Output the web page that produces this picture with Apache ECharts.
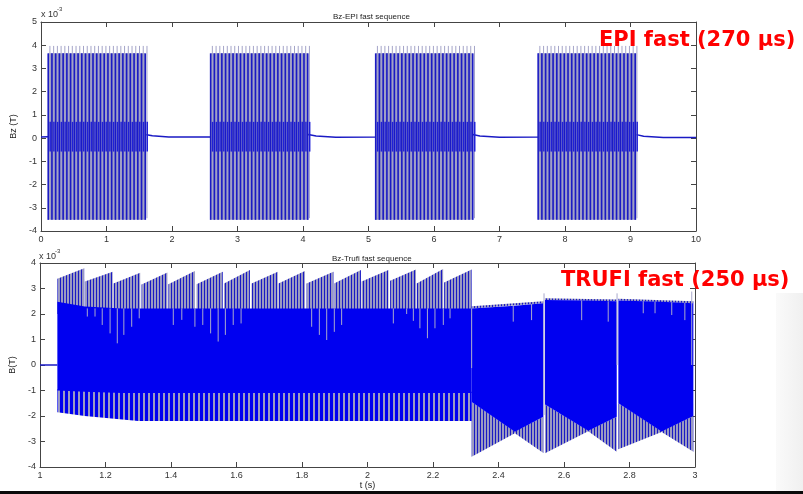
<!DOCTYPE html>
<html>
<head>
<meta charset="utf-8">
<title>Bz fast sequences</title>
<script src="https://cdn.jsdelivr.net/npm/echarts@6/dist/echarts.min.js"></script>
<style>
  html, body { margin: 0; padding: 0; background: #fff; }
  #chart { width: 803px; height: 494px; }
</style>
</head>
<body>
<div id="chart"></div>
<script>
// values are in units of 1e-3 T (axis shows "x 10^-3")

// ---- EPI fast sequence (top) ----
var epiBursts = [[0.11, 1.59], [2.59, 4.08], [5.11, 6.59], [7.59, 9.09]];
var epiSpikeOffsets = [0, 0.057, 0.114, 0.171, 0.228, 0.285, 0.342, 0.399, 0.456, 0.513,
  0.570, 0.627, 0.684, 0.741, 0.798, 0.855, 0.912, 0.969, 1.026, 1.083,
  1.140, 1.197, 1.254, 1.311, 1.368, 1.425, 1.482];
var epiSpikeRange = [-3.52, 3.65];
var epiTipRange = [-3.45, 3.97];
var epiCoreRange = [-0.58, 0.7];
var epiBaseline = [[0, 0.05], [0.11, 0.06], [1.59, 0.16], [1.7, 0.1], [1.95, 0.05], [2.59, 0.05],
  [4.08, 0.16], [4.2, 0.09], [4.5, 0.04], [5.11, 0.05], [6.59, 0.16], [6.7, 0.09], [7.0, 0.04],
  [7.59, 0.05], [9.09, 0.15], [9.2, 0.08], [9.5, 0.03], [10, 0.03]];

// ---- Trufi fast sequence (bottom) ----
var trufiBaseline = [[1.0, 0.0], [1.053, 0.0]];
// sawtooth teeth: [t start, t end, value at start, value at end]
var trufiTeeth = [
  [1.053, 1.135, 3.38, 3.79], [1.137, 1.222, 3.27, 3.66], [1.224, 1.306, 3.20, 3.62],
  [1.310, 1.389, 3.16, 3.63], [1.392, 1.473, 3.17, 3.69], [1.478, 1.558, 3.17, 3.66],
  [1.562, 1.641, 3.20, 3.73], [1.646, 1.726, 3.20, 3.66], [1.728, 1.809, 3.20, 3.69],
  [1.814, 1.896, 3.20, 3.66], [1.898, 1.980, 3.20, 3.73], [1.982, 2.064, 3.27, 3.73],
  [2.069, 2.148, 3.30, 3.75], [2.150, 2.231, 3.20, 3.76], [2.234, 2.318, 3.24, 3.75]];
var trufiToothBase = 2.0;
// bands: rows of [t, low, high]
var trufiSolid = [
  [[1.053, -1.0, 2.48], [1.137, -1.05, 2.29], [1.25, -1.1, 2.22], [2.318, -1.1, 2.22]],
  [[2.318, -1.45, 2.22], [2.45, -2.62, 2.32], [2.537, -2.03, 2.42]],
  [[2.542, -1.55, 2.55], [2.674, -2.58, 2.53], [2.761, -2.03, 2.5]],
  [[2.766, -1.5, 2.53], [2.898, -2.61, 2.48], [2.995, -2.0, 2.42]]];
var trufiLowStripes = [
  [[1.053, -1.85, -0.95], [1.137, -2.0, -1.0], [1.3, -2.2, -1.05], [2.318, -2.2, -1.05]]];
var trufiSparseStripes = [
  [[2.318, -3.6, -1.45], [2.45, -2.68, -2.6], [2.537, -3.45, -2.03]],
  [[2.542, -3.46, -1.55], [2.674, -2.6, -2.56], [2.761, -3.4, -2.03]],
  [[2.766, -3.3, -1.5], [2.898, -2.63, -2.59], [2.995, -3.4, -2.0]],
  [[2.318, 2.22, 2.3], [2.537, 2.42, 2.5]],
  [[2.542, 2.55, 2.62], [2.761, 2.5, 2.57]],
  [[2.766, 2.53, 2.6], [2.995, 2.42, 2.5]]];
// light vertical lines cutting into the solid band: [t, low, high]
var trufiNotches = [
  [1.1445, 1.90, 2.22], [1.168, 1.90, 2.22], [1.190, 1.57, 2.22], [1.214, 1.24, 2.22],
  [1.236, 0.85, 2.22], [1.256, 1.18, 2.22], [1.280, 1.50, 2.22], [1.303, 1.83, 2.22],
  [1.407, 1.57, 2.22], [1.433, 1.77, 2.22], [1.473, 1.50, 2.22], [1.497, 1.57, 2.22],
  [1.521, 1.24, 2.22], [1.544, 0.92, 2.22], [1.566, 1.18, 2.22], [1.590, 1.57, 2.22],
  [1.614, 1.63, 2.22], [1.8295, 1.50, 2.22], [1.853, 1.18, 2.22], [1.8754, 0.98, 2.22],
  [1.8987, 1.30, 2.22], [1.921, 1.57, 2.22], [2.0789, 1.63, 2.22], [2.1196, 2.0, 2.22],
  [2.140, 1.73, 2.22], [2.160, 1.44, 2.22], [2.183, 1.05, 2.22], [2.206, 1.44, 2.22],
  [2.2315, 1.57, 2.22], [2.252, 1.83, 2.22], [2.318, -0.12, 2.22],
  [2.445, 1.70, 2.35], [2.501, 1.76, 2.39], [2.539, -1.96, 2.81], [2.654, 1.76, 2.53],
  [2.735, 1.70, 2.5], [2.762, 0.0, 2.81], [2.842, 2.03, 2.5], [2.878, 2.03, 2.48],
  [2.929, 1.96, 2.46], [2.969, 1.76, 2.44], [2.99, 0.0, 2.88]];

var xTicksTop = [0, 10, 1];
var yTicksTop = [-4, 5, 1];
var xTicksBottom = [1, 3, 0.2];
var yTicksBottom = [-4, 4, 1];

// ---- styles ----
var DARK = '#1a1ac4';
var SOLID = '#0000f0';
var GRAY = '#9a9ac2';
var FONT = 'Liberation Sans';

function stripes(colors) {
  var c = document.createElement('canvas');
  c.width = colors.length;
  c.height = 2;
  var ctx = c.getContext('2d');
  colors.forEach(function (col, i) {
    ctx.fillStyle = col;
    ctx.fillRect(i, 0, 1, 2);
  });
  return { image: c, repeat: 'repeat' };
}
var sparsePattern = stripes([DARK, GRAY, GRAY]);
var densePattern = stripes([SOLID, SOLID, SOLID, GRAY, GRAY]);

// polygon series: one polygon per band (rows of [t, low, high])
function bandSeries(bands, xi, yi, fill, z) {
  return {
    type: 'custom', xAxisIndex: xi, yAxisIndex: yi, z: z, clip: true, silent: true,
    data: bands.map(function (b, i) { return [b[0][0], b[0][2], i]; }),
    renderItem: function (params, api) {
      var band = bands[api.value(2)];
      var pts = [];
      band.forEach(function (r) { pts.push(api.coord([r[0], r[2]])); });
      band.slice().reverse().forEach(function (r) { pts.push(api.coord([r[0], r[1]])); });
      return { type: 'polygon', shape: { points: pts }, style: { fill: fill } };
    }
  };
}

// vertical line series: data rows [t, low, high]
function vlineSeries(rows, xi, yi, color, width, z) {
  return {
    type: 'custom', xAxisIndex: xi, yAxisIndex: yi, z: z, clip: true, silent: true,
    data: rows,
    renderItem: function (params, api) {
      var a = api.coord([api.value(0), api.value(1)]);
      var b = api.coord([api.value(0), api.value(2)]);
      return { type: 'line', shape: { x1: a[0], y1: a[1], x2: b[0], y2: b[1] },
        style: { stroke: color, lineWidth: width } };
    }
  };
}

// build tables from the data
var epiBurstBands = epiBursts.map(function (b) {
  return [[b[0], epiSpikeRange[0], epiSpikeRange[1]], [b[1], epiSpikeRange[0], epiSpikeRange[1]]];
});
var epiSpikes = [], epiTips = [], epiCores = [];
epiBursts.forEach(function (b) {
  epiSpikeOffsets.forEach(function (o) {
    epiSpikes.push([b[0] + o, epiSpikeRange[0], epiSpikeRange[1]]);
    epiTips.push([b[0] + o + 0.026, epiTipRange[0], epiTipRange[1]]);
    epiCores.push([b[0] + o + 0.03, epiCoreRange[0], epiCoreRange[1]]);
  });
});
var toothBands = trufiTeeth.map(function (t) {
  return [[t[0], trufiToothBase, t[2]], [t[1], trufiToothBase, t[3]]];
});

function axisX(grid, ticks, pos, labels, name) {
  return {
    gridIndex: grid, type: 'value', min: ticks[0], max: ticks[1], interval: ticks[2], position: pos,
    name: name || '', nameLocation: 'middle', nameGap: 13,
    nameTextStyle: { fontSize: 9, color: '#222', fontFamily: FONT },
    axisLine: { onZero: false, lineStyle: { color: '#444', width: 1 } },
    axisTick: { inside: true, length: 5, lineStyle: { color: '#444' } },
    axisLabel: { show: labels, fontSize: 9, color: '#333', margin: 4, fontFamily: FONT },
    splitLine: { show: false }
  };
}
function axisY(grid, ticks, pos, labels, name, gap) {
  return {
    gridIndex: grid, type: 'value', min: ticks[0], max: ticks[1], interval: ticks[2], position: pos,
    name: name || '', nameLocation: 'middle', nameGap: gap || 15, nameRotate: 90,
    nameTextStyle: { fontSize: 9, color: '#222', fontFamily: FONT },
    axisLine: { onZero: false, lineStyle: { color: '#444', width: 1 } },
    axisTick: { inside: true, length: 5, lineStyle: { color: '#444' } },
    axisLabel: { show: labels, fontSize: 9, color: '#333', margin: 4, fontFamily: FONT },
    splitLine: { show: false }
  };
}

var chart = echarts.init(document.getElementById('chart'));
chart.setOption({
  animation: false,
  backgroundColor: '#fff',
  title: [
    { text: 'Bz-EPI fast sequence', left: 328, top: 8,
      textStyle: { fontSize: 8, fontWeight: 'normal', color: '#222', fontFamily: FONT } },
    { text: 'Bz-Trufi fast sequence', left: 327, top: 250,
      textStyle: { fontSize: 8, fontWeight: 'normal', color: '#222', fontFamily: FONT } }
  ],
  grid: [
    { left: 41, top: 22, width: 655, height: 209 },
    { left: 40, top: 263, width: 655, height: 204 }
  ],
  xAxis: [
    axisX(0, xTicksTop, 'bottom', true),
    axisX(0, xTicksTop, 'top', false),
    axisX(1, xTicksBottom, 'bottom', true, 't (s)'),
    axisX(1, xTicksBottom, 'top', false)
  ],
  yAxis: [
    axisY(0, yTicksTop, 'left', true, 'Bz (T)', 14),
    axisY(0, yTicksTop, 'right', false),
    axisY(1, yTicksBottom, 'left', true, 'B(T)', 13),
    axisY(1, yTicksBottom, 'right', false)
  ],
  series: [
    { type: 'line', xAxisIndex: 0, yAxisIndex: 0, data: epiBaseline, showSymbol: false, z: 2,
      lineStyle: { color: DARK, width: 1.5 } },
    bandSeries(epiBurstBands, 0, 0, GRAY, 3),
    vlineSeries(epiTips, 0, 0, '#a4a4c8', 1, 4),
    vlineSeries(epiSpikes, 0, 0, DARK, 1.6, 5),
    vlineSeries(epiCores, 0, 0, '#2020d8', 1.5, 6),

    { type: 'line', xAxisIndex: 2, yAxisIndex: 2, data: trufiBaseline, showSymbol: false, z: 2,
      lineStyle: { color: DARK, width: 1.5 } },
    bandSeries(toothBands, 2, 2, sparsePattern, 3),
    bandSeries(trufiSparseStripes, 2, 2, sparsePattern, 3),
    bandSeries(trufiLowStripes, 2, 2, densePattern, 3),
    bandSeries(trufiSolid, 2, 2, SOLID, 4),
    vlineSeries(trufiNotches, 2, 2, '#a8a8cc', 1, 5)
  ],
  graphic: [
    { type: 'text', left: 41, top: 10, style: { text: 'x 10', fontSize: 9, fill: '#333', fontFamily: FONT } },
    { type: 'text', left: 57, top: 6, style: { text: '-3', fontSize: 6, fill: '#333', fontFamily: FONT } },
    { type: 'text', left: 39, top: 252, style: { text: 'x 10', fontSize: 9, fill: '#333', fontFamily: FONT } },
    { type: 'text', left: 55, top: 248, style: { text: '-3', fontSize: 6, fill: '#333', fontFamily: FONT } },
    { type: 'text', left: 599, top: 30, z: 100,
      style: { text: 'EPI fast (270 \u00b5s)', fontSize: 21, fontWeight: 'bold', fill: '#ff0000', fontFamily: 'DejaVu Sans' } },
    { type: 'text', left: 561, top: 270, z: 100,
      style: { text: 'TRUFI fast (250 \u00b5s)', fontSize: 21, fontWeight: 'bold', fill: '#ff0000', fontFamily: 'DejaVu Sans' } },
    { type: 'rect', left: 776, top: 293, z: -1, shape: { width: 27, height: 198 },
      style: { fill: { type: 'linear', x: 0, y: 0, x2: 1, y2: 0,
        colorStops: [{ offset: 0, color: '#fafafa' }, { offset: 1, color: '#f0f0f0' }] } } },
    { type: 'rect', left: 0, top: 491, shape: { width: 803, height: 3 }, style: { fill: '#0a0a0a' } }
  ]
});
</script>
</body>
</html>
